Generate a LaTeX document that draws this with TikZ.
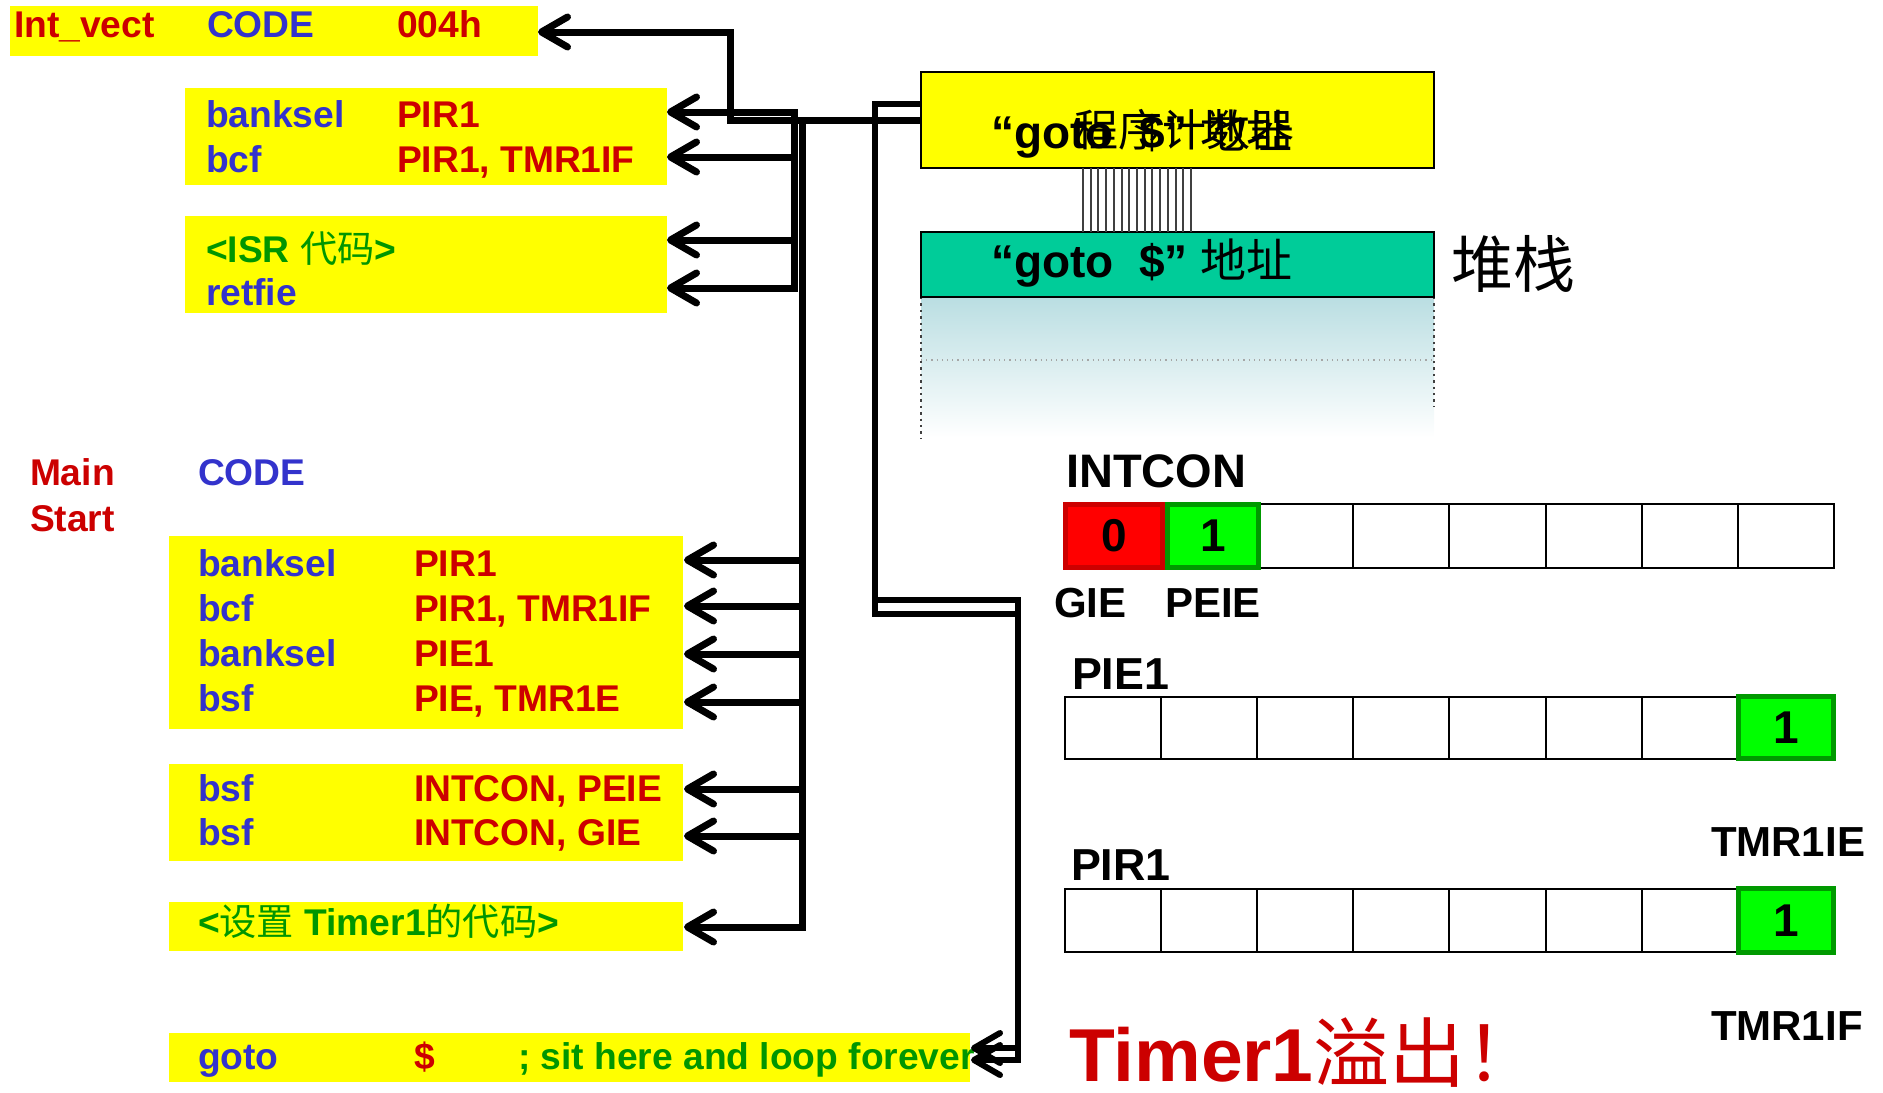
\documentclass[tikz,border=0pt]{standalone}
\usepackage{fontspec}
\setmainfont{Liberation Sans}
\newfontfamily\cjk{Noto Sans CJK SC}
\usetikzlibrary{arrows.meta,fit}
\definecolor{tred}{RGB}{204,0,0}
\definecolor{tblue}{RGB}{51,51,204}
\definecolor{tgreen}{RGB}{0,150,0}
\definecolor{ylw}{RGB}{255,255,0}
\definecolor{stackgreen}{RGB}{0,204,153}
\definecolor{stackblue}{RGB}{186,222,226}
\definecolor{cellred}{RGB}{255,0,0}
\definecolor{cellredb}{RGB}{204,0,0}
\definecolor{cellgreen}{RGB}{0,255,0}
\definecolor{cellgreenb}{RGB}{0,153,0}
\newcommand\zh[1]{{\cjk\mdseries #1}}
\begin{document}
\begin{tikzpicture}[x=0.5pt,y=-0.5pt,
  >={Straight Barb[round,length=13pt,width=15pt]},
  ybox/.style={fill=ylw,inner sep=0pt,outer sep=0pt},
  txt/.style={anchor=base west,inner sep=0pt,outer sep=0pt},
  code/.style={txt,font=\fontsize{18.6}{22}\selectfont\bfseries},
  reg/.style={txt,font=\fontsize{22.4}{27}\selectfont\bfseries},
  regs/.style={txt,font=\fontsize{21}{25}\selectfont\bfseries},
  big/.style={txt,font=\fontsize{23}{28}\selectfont\bfseries},
  bus/.style={line width=3.5pt,black},
  dbus/.style={line width=3pt,black},
  cell/.style={draw,line width=1pt,minimum width=48.05pt,inner sep=0pt,outer sep=0pt},
  redcell/.style={draw=cellredb,fill=cellred,line width=2.5pt,inner sep=0pt,outer sep=0pt,font=\fontsize{23}{28}\selectfont\bfseries},
  grcell/.style={draw=cellgreenb,fill=cellgreen,line width=2.5pt,inner sep=0pt,outer sep=0pt,font=\fontsize{23}{28}\selectfont\bfseries},
]
\useasboundingbox (0,0) rectangle (1883,1092);

% ---------- yellow code boxes ----------
\node[ybox,fit={(10,6)(538,56)}] (bIV) {};
\node[ybox,fit={(185,88)(667,185)}] (bA) {};
\node[ybox,fit={(185,216)(667,313)}] (bB) {};
\node[ybox,fit={(169,536)(683,729)}] (bC) {};
\node[ybox,fit={(169,764)(683,861)}] (bD) {};
\node[ybox,fit={(169,902)(683,951)}] (bE) {};
\node[ybox,fit={(169,1033)(970,1082)}] (bF) {};

% ---------- code text ----------
\node[code,tred]  (t1) at (14,37)  {Int\_vect};
\node[code,tblue] (t2) at (207,37) {CODE};
\node[code,tred]  (t3) at (397,37) {004h};

\node[code,tblue] (a1) at (206,127) {banksel};
\node[code,tred]  (a2) at (397,127) {PIR1};
\node[code,tblue] (a3) at (206,172) {bcf};
\node[code,tred]  (a4) at (397,172) {PIR1, TMR1IF};
\node[code,tgreen] (b1) at (206,262) {<ISR \zh{代码}>};
\node[code,tblue] (b2) at (206,305) {retfie};

\node[code,tred]  (m1) at (30,485)  {Main};
\node[code,tred]  (m2) at (30,531)  {Start};
\node[code,tblue] (m3) at (198,485) {CODE};

\node[code,tblue] (c1) at (198,576) {banksel};
\node[code,tred]  (c2) at (414,576) {PIR1};
\node[code,tblue] (c3) at (198,621) {bcf};
\node[code,tred]  (c4) at (414,621) {PIR1, TMR1IF};
\node[code,tblue] (c5) at (198,666) {banksel};
\node[code,tred]  (c6) at (414,666) {PIE1};
\node[code,tblue] (c7) at (198,711) {bsf};
\node[code,tred]  (c8) at (414,711) {PIE, TMR1E};

\node[code,tblue] (d1) at (198,801) {bsf};
\node[code,tred]  (d2) at (414,801) {INTCON, PEIE};
\node[code,tblue] (d3) at (198,845) {bsf};
\node[code,tred]  (d4) at (414,845) {INTCON, GIE};

\node[code,tgreen] (e1) at (198,935) {<\zh{设置} Timer1\zh{的代码}>};

\node[code,tblue]  (f1) at (198,1069) {goto};
\node[code,tred]   (f2) at (414,1069) {\$};
\node[code,tgreen] (f3) at (518,1069) {; sit here and loop forever};

% ---------- program counter and stack ----------
\shade[top color=stackblue,bottom color=white] (921,297) rectangle (1434,438);
\draw[dotted,line width=1.2pt,black!75] (921,297) -- (921,438);
\draw[dotted,line width=1.2pt,black!75] (1434,297) -- (1434,406);
\draw[dotted,line width=0.6pt,black!35] (921,360) -- (1434,360);

\node[draw,line width=1pt,fill=ylw,inner sep=0pt,outer sep=0pt,fit={(921,72)(1434,168)}] (pc) {};
\node[draw,line width=1pt,fill=stackgreen,inner sep=0pt,outer sep=0pt,fit={(921,232)(1434,297)}] (stk) {};
\foreach \i in {0,...,14}
  \draw[black!75,line width=1pt] ({1083+7.72*\i},0 |- pc.south) -- ({1083+7.72*\i},0 |- stk.north);

\node[big] (pct) at (991,148) {“goto\ \ \$” \zh{地址}};
\node[txt,font=\fontsize{22}{26}\selectfont\cjk] (pcn) at (1074,146) {程序计数器};
\node[big] (stt) at (991,277) {“goto\ \ \$” \zh{地址}};
\node[txt,font=\fontsize{31}{36}\selectfont\cjk] (stl) at (1451,287) {堆栈};

% ---------- registers ----------
\node[reg,font=\fontsize{23.5}{28}\selectfont\bfseries] (lint) at (1066,487) {INTCON};
\foreach \i in {0,...,7} {
  \node[cell,minimum height=32pt]   (ra\i) at ({1065+96.1*(\i+0.5)},536) {};
  \node[cell,minimum height=31pt]   (rb\i) at ({1065+96.1*(\i+0.5)},728) {};
  \node[cell,minimum height=31.5pt] (rc\i) at ({1065+96.1*(\i+0.5)},920.5) {};
}
\node[redcell,minimum width=48.5pt,minimum height=31.5pt] (gie) at (1114,536) {0};
\node[grcell,minimum width=45.5pt,minimum height=31.5pt] (peie) at (1213,536) {1};
\node[grcell,minimum width=47.5pt,minimum height=31pt] (tie) at (1786,727.5) {1};
\node[grcell,minimum width=47.5pt,minimum height=32pt] (tif) at (1786,920.5) {1};

\node[regs] (lgie)  at (1054,617) {GIE};
\node[regs] (lpeie) at (1165,617) {PEIE};
\node[reg]  (lpie)  at (1072,689) {PIE1};
\node[regs] (ltie)  at (1711,856) {TMR1IE};
\node[reg]  (lpir)  at (1071,880) {PIR1};
\node[regs] (ltif)  at (1711,1040) {TMR1IF};

\node[txt,text=tred,font=\fontsize{37.5}{44}\selectfont\bfseries] (ovf) at (1069,1081) {Timer1{\cjk\fontsize{38}{44}\selectfont\mdseries 溢出！}};

% ---------- connectors ----------
% PC -> Int_vect
\coordinate (pM) at (921,120);
\coordinate (kM) at (730,120);
\coordinate (ivT) at (538,32);
\draw[bus,->] (pM) -- (kM) |- (ivT);

% upper bus to ISR
\coordinate (uTop) at (794,112);
\coordinate (uBot) at (794,288);
\coordinate (u2) at (794,157);
\coordinate (u3) at (794,240);
\coordinate (aT1) at (667,112);
\coordinate (aT2) at (667,157);
\coordinate (aT3) at (667,240);
\coordinate (aT4) at (667,288);
\draw[bus,<->] (aT1) -- (uTop) -- (uBot) -- (aT4);
\draw[bus,->] (u2) -- (aT2);
\draw[bus,->] (u3) -- (aT3);

% lower bus to main code
\coordinate (kL) at (802,120);
\coordinate (lBot) at (802,927);
\coordinate (cT7) at (684,927);
\draw[bus,->] (pM) -- (kL) -- (lBot) -- (cT7);
\foreach \yy/\nm in {560/1,606/2,654/3,702/4,789/5,836/6} {
  \coordinate (l\nm) at (802,\yy);
  \coordinate (cT\nm) at (684,\yy);
  \draw[bus,->] (l\nm) -- (cT\nm);
}

% double line PC -> goto $
\coordinate (pQ) at (921,104);
\coordinate (q1) at (875,104);
\coordinate (q2) at (875,614);
\coordinate (q2b) at (875,600);
\coordinate (q3) at (1018,614);
\coordinate (q3b) at (1018,600);
\coordinate (q4) at (1018,1060);
\coordinate (q4b) at (1018,1048);
\coordinate (gT1) at (971,1048);
\coordinate (gT2) at (971,1060);
\draw[dbus,->] (pQ) -- (q1) -- (q2) -- (q3) -- (q4) -- (gT2);
\draw[dbus,->] (q2b) -- (q3b) -- (q4b) -- (gT1);
\end{tikzpicture}
\end{document}
